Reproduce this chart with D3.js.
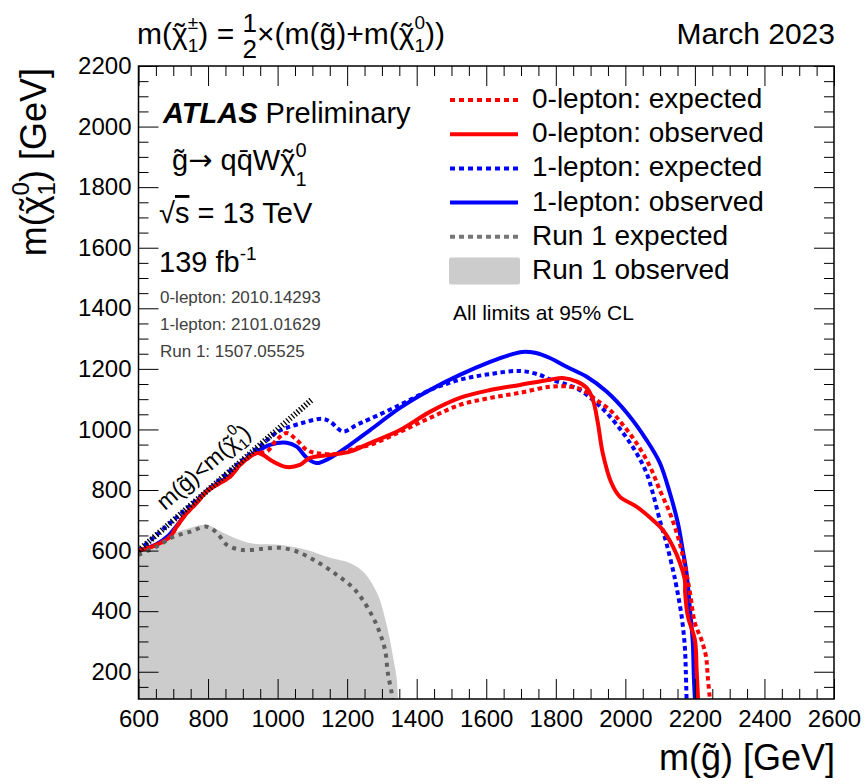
<!DOCTYPE html>
<html><head><meta charset="utf-8">
<script src="https://cdn.jsdelivr.net/npm/d3@7"></script>
<style>
html,body{margin:0;padding:0;background:#fff;}
svg{display:block;font-family:"Liberation Sans",Arial,Helvetica,sans-serif;}
</style></head><body>
<svg id="c" width="867" height="784"></svg>
<script>
// ---------- data (GeV) ----------
const xTickValues=[600,800,1000,1200,1400,1600,1800,2000,2200,2400,2600];
const yTickValues=[200,400,600,800,1000,1200,1400,1600,1800,2000,2200];
const xDomain=[600,2600];
const yDomain=[110,2200];

const run1Observed=[[600,602],[650,625],[691,652],[748,675],[796,685],[843,659],[920,625],[1006,619],[1084,602],[1151,576],[1208,559],[1246,530],[1286,460],[1315,348],[1332,249],[1343,173],[1346,110]];
const run1Expected=[[600,586],[652,613],[699,645],[748,662],[796,679],[825,659],[854,619],[900,602],[958,606],[1007,609],[1055,597],[1112,564],[1170,520],[1217,477],[1245,437],[1275,378],[1294,328],[1309,272],[1317,196],[1328,130],[1330,110]];
const lep0Observed=[[600,600],[650,618],[691,646],[710,679],[739,724],[767,757],[796,795],[834,823],[863,844],[892,883],[921,910],[940,922],[958,916],[987,894],[1026,876],[1064,883],[1093,906],[1151,916],[1208,927],[1266,955],[1352,998],[1438,1058],[1524,1104],[1611,1130],[1697,1147],[1783,1164],[1820,1170],[1861,1158],[1889,1137],[1907,1097],[1921,1021],[1935,922],[1960,823],[1984,778],[2032,745],[2079,701],[2108,668],[2137,613],[2157,559],[2171,503],[2172,460],[2180,382],[2200,305],[2205,206],[2209,110]];
const lep0Expected=[[600,600],[650,618],[691,646],[710,679],[739,724],[767,757],[796,795],[834,823],[863,844],[892,883],[921,910],[940,922],[969,927],[997,965],[1026,988],[1055,965],[1084,932],[1112,922],[1170,919],[1227,939],[1266,949],[1352,992],[1438,1038],[1524,1081],[1611,1104],[1697,1121],[1783,1141],[1841,1141],[1878,1130],[1917,1097],[1956,1064],[1993,1015],[2032,955],[2071,877],[2099,800],[2128,724],[2151,646],[2168,569],[2186,460],[2200,361],[2219,305],[2232,250],[2237,184],[2243,110]];
const lep1Observed=[[600,600],[650,620],[685,648],[710,682],[739,726],[767,760],[796,797],[834,826],[863,848],[892,886],[921,913],[940,927],[978,949],[1026,956],[1055,943],[1084,906],[1112,889],[1151,906],[1208,949],[1266,998],[1352,1071],[1438,1130],[1524,1180],[1611,1223],[1668,1246],[1703,1256],[1740,1253],[1783,1236],[1831,1207],[1889,1174],[1946,1125],[2004,1055],[2061,965],[2099,890],[2128,790],[2151,691],[2165,602],[2176,526],[2186,404],[2194,295],[2197,183],[2200,110]];
const lep1Expected=[[600,600],[700,700],[800,800],[900,900],[960,955],[997,990],[1026,1005],[1073,1022],[1127,1035],[1151,1026],[1188,993],[1227,1015],[1266,1035],[1352,1081],[1438,1130],[1524,1164],[1611,1183],[1697,1193],[1754,1180],[1783,1165],[1820,1153],[1869,1130],[1907,1097],[1946,1055],[1993,989],[2032,922],[2061,856],[2079,790],[2099,701],[2118,625],[2137,536],[2147,481],[2162,382],[2171,283],[2174,196],[2176,110]];
const diagonalX=[600,1100];
const diagonalY=[600,1100];

const legendLabels=["0-lepton: expected","0-lepton: observed","1-lepton: expected","1-lepton: observed","Run 1 expected","Run 1 observed"];
const refLabels=["0-lepton: 2010.14293","1-lepton: 2101.01629","Run 1: 1507.05525"];

// ---------- layout ----------
const L=138.5,R=834,T=66,B=699;
const svg=d3.select("#c");
const x=d3.scaleLinear().domain(xDomain).range([L,R]);
const y=d3.scaleLinear().domain(yDomain).range([B,T]);

svg.append("defs").append("clipPath").attr("id","clip")
  .append("rect").attr("x",L).attr("y",T).attr("width",R-L).attr("height",B-T);
const plot=svg.append("g").attr("clip-path","url(#clip)");

const RED="#ff0000",BLUE="#0000ff",GREY="#606060",FILL="#cccccc";
const curve=d3.curveCatmullRom.alpha(0.5);
const line=d3.line().x(d=>x(d[0])).y(d=>y(d[1])).curve(curve);
const area=d3.area().x(d=>x(d[0])).y0(y(yDomain[0])).y1(d=>y(d[1])).curve(curve);

plot.append("path").datum(run1Observed).attr("d",area).attr("fill",FILL);
plot.append("path").datum(lep1Expected).attr("d",line).attr("fill","none").attr("stroke",BLUE).attr("stroke-width",4).attr("stroke-dasharray","4.5,3.5");
plot.append("path").datum(lep1Observed).attr("d",line).attr("fill","none").attr("stroke",BLUE).attr("stroke-width",4);
plot.append("path").datum(lep0Expected).attr("d",line).attr("fill","none").attr("stroke",RED).attr("stroke-width",4).attr("stroke-dasharray","4.5,3.5");
plot.append("path").datum(lep0Observed).attr("d",line).attr("fill","none").attr("stroke",RED).attr("stroke-width",4);
plot.append("path").datum(run1Expected).attr("d",line).attr("fill","none").attr("stroke",GREY).attr("stroke-width",4).attr("stroke-dasharray","4,5");

// kinematic boundary (hatched)
plot.append("line").attr("x1",x(diagonalX[0])).attr("y1",y(diagonalY[0])).attr("x2",x(diagonalX[1])).attr("y2",y(diagonalY[1]))
  .attr("stroke","#000").attr("stroke-width",6).attr("stroke-dasharray","1.3,2.1");

// text measuring
function textW(str,size,family){
  const t=svg.append("text").style("font-size",size+"px").text(str);
  if(family) t.style("font-family",family);
  const w=t.node().getComputedTextLength(); t.remove(); return w;
}
// rich text helper
function rich(parent,xp,yp,size,parts){
  const t=parent.append("text").attr("x",xp).attr("y",yp).style("font-size",size+"px").attr("fill","#000");
  let off=0, pend=0;
  parts.forEach(p=>{
    const fs=p.size||size;
    const s=t.append("tspan").text(p.t);
    const sh=p.shift||0;
    s.attr("dy",sh-off); off=sh;
    let dx=pend+(p.dx||0); pend=0;
    if(p.back) dx-=textW(p.back,p.backSize||fs);
    if(dx) s.attr("dx",dx);
    s.style("font-size",fs+"px");
    if(p.weight) s.style("font-weight",p.weight);
    if(p.italic) s.style("font-style","italic");
    if(p.deco) s.style("text-decoration",p.deco);
    if(p.family) s.style("font-family",p.family);
    if(p.tilde){
      const wc=textW(p.t,fs), wt=textW("\u02DC",fs);
      t.append("tspan").text("\u02DC").attr("dx",-(wc+wt)/2).attr("dy",0).style("font-size",fs+"px");
      pend=(wc-wt)/2;
    }
  });
  return t;
}

// diagonal label
const ang=Math.atan2(y(diagonalY[1])-y(diagonalY[0]),x(diagonalX[1])-x(diagonalX[0]))*180/Math.PI;
const dl=svg.append("g").attr("transform",`translate(165,511) rotate(${ang})`);
rich(dl,0,0,23,[{t:"m(g\u0303)<m("},{t:"\u03C7",tilde:true},{t:"0",size:15,shift:-12},{t:"1",size:15,shift:6,back:"0"},{t:")"}]);

// ---------- axes ----------
const xMinor=d3.range(xDomain[0],xDomain[1]+1,50).filter(v=>v%200!==0);
const yMinor=d3.range(150,yDomain[1]+1,50).filter(v=>v%200!==0);
function styleAxis(g){
  g.select(".domain").remove();
  g.selectAll(".tick line").attr("stroke","#000").attr("stroke-width",1);
  g.attr("font-family",'"Liberation Sans",Arial,sans-serif').attr("font-size",24);
  g.selectAll("text").attr("fill","#000");
}
svg.append("g").attr("transform",`translate(0,${B})`)
  .call(d3.axisBottom(x).tickValues(xTickValues).tickSize(-20).tickPadding(11).tickFormat(d3.format("d"))).call(styleAxis);
svg.append("g").attr("transform",`translate(0,${B})`)
  .call(d3.axisBottom(x).tickValues(xMinor).tickSize(-10).tickFormat("")).call(styleAxis);
svg.append("g").attr("transform",`translate(0,${T})`)
  .call(d3.axisTop(x).tickValues(xTickValues).tickSize(-20).tickFormat("")).call(styleAxis);
svg.append("g").attr("transform",`translate(0,${T})`)
  .call(d3.axisTop(x).tickValues(xMinor).tickSize(-10).tickFormat("")).call(styleAxis);
svg.append("g").attr("transform",`translate(${L},0)`)
  .call(d3.axisLeft(y).tickValues(yTickValues).tickSize(-20).tickPadding(7).tickFormat(d3.format("d"))).call(styleAxis);
svg.append("g").attr("transform",`translate(${L},0)`)
  .call(d3.axisLeft(y).tickValues(yMinor).tickSize(-10).tickFormat("")).call(styleAxis);
svg.append("g").attr("transform",`translate(${R},0)`)
  .call(d3.axisRight(y).tickValues(yTickValues).tickSize(-20).tickFormat("")).call(styleAxis);
svg.append("g").attr("transform",`translate(${R},0)`)
  .call(d3.axisRight(y).tickValues(yMinor).tickSize(-10).tickFormat("")).call(styleAxis);
svg.append("rect").attr("x",L).attr("y",T).attr("width",R-L).attr("height",B-T)
  .attr("fill","none").attr("stroke","#000").attr("stroke-width",1.5);

// axis titles
svg.append("text").attr("x",835).attr("y",770).attr("text-anchor","end").style("font-size","36px").text("m(g\u0303) [GeV]");
const yt=svg.append("g").attr("transform","translate(46,68) rotate(-90)");
rich(yt,0,0,36,[{t:"m("},{t:"\u03C7",tilde:true},{t:"0",size:24,shift:-17},{t:"1",size:24,shift:9,back:"0"},{t:") [GeV]"}]).attr("text-anchor","end");

// title
rich(svg,137,44,30,[{t:"m("},{t:"\u03C7",tilde:true},{t:"\u00B1",size:19,shift:-15},{t:"1",size:19,shift:8,back:"\u00B1"},{t:") = "},
  {t:"1",size:26,shift:-12},{t:"2",size:26,shift:14,back:"1"},{t:"\u00D7(m(g\u0303)+m("},{t:"\u03C7",tilde:true},
  {t:"0",size:19,shift:-15},{t:"1",size:19,shift:8,back:"0"},{t:"))"}]);
svg.append("text").attr("x",835).attr("y",44).attr("text-anchor","end").style("font-size","30px").text("March 2023");

// ATLAS block
rich(svg,163,123,29,[{t:"ATLAS",weight:"bold",italic:true},{t:" Preliminary"}]);
rich(svg,172,170,29,[{t:"g\u0303"},{t:"\u2192",family:'"DejaVu Sans"'},{t:" qq\u0304W"},{t:"\u03C7",tilde:true},{t:"0",size:20,shift:-13},{t:"1",size:20,shift:16,back:"0"}]);
rich(svg,159,223,29,[{t:"\u221A"},{t:"s",deco:"overline"},{t:" = 13 TeV"}]);
rich(svg,159,272,29,[{t:"139 fb"},{t:"-1",size:19,shift:-12}]);
refLabels.forEach((s,i)=>{
  svg.append("text").attr("x",160).attr("y",303+i*27).style("font-size","17px").attr("fill","#404040").text(s);
});

// legend
const legStyles=[
  {c:RED,dash:"5,4",w:4},{c:RED,dash:null,w:4},{c:BLUE,dash:"5,4",w:4},{c:BLUE,dash:null,w:4},{c:"#777777",dash:"5,4",w:4},{c:null}
];
legendLabels.forEach((lab,i)=>{
  const yy=100+i*34.2;
  const st=legStyles[i];
  if(st.c){
    const l=svg.append("line").attr("x1",450).attr("x2",518).attr("y1",yy).attr("y2",yy).attr("stroke",st.c).attr("stroke-width",st.w);
    if(st.dash) l.attr("stroke-dasharray",st.dash);
  } else {
    svg.append("rect").attr("x",449).attr("y",yy-13.5).attr("width",71).attr("height",27).attr("rx",2).attr("fill",FILL);
  }
  svg.append("text").attr("x",532).attr("y",yy+8).style("font-size","28px").text(lab);
});
svg.append("text").attr("x",453).attr("y",320).style("font-size","21px").text("All limits at 95% CL");
</script>
</body></html>
